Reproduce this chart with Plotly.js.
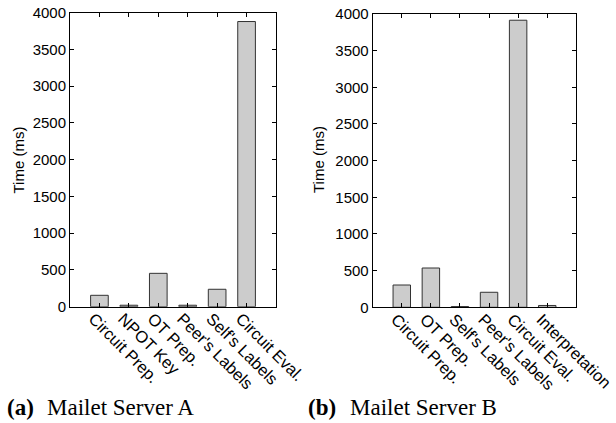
<!DOCTYPE html>
<html><head><meta charset="utf-8">
<script src="https://cdn.plot.ly/plotly-3.0.1.min.js"></script>
<style>html,body{margin:0;padding:0;background:#fff}</style>
</head><body><div id="chart" style="width:616px;height:423px"></div>
<script>
const categoriesA = ["Circuit Prep.", "NPOT Key", "OT Prep.", "Peer's Labels", "Self's Labels", "Circuit Eval."];
const timesA = [155, 20, 454, 20, 237, 3880];
const categoriesB = ["Circuit Prep.", "OT Prep.", "Self's Labels", "Peer's Labels", "Circuit Eval.", "Interpretation"];
const timesB = [304, 536, 10, 205, 3915, 25];
const yTickVals = [0, 500, 1000, 1500, 2000, 2500, 3000, 3500, 4000];
const yTitle = "Time (ms)";
const captionA = ["(a)", "Mailet Server A"];
const captionB = ["(b)", "Mailet Server B"];

const W = 616, H = 423;
const px = v => v / W, py = v => 1 - v / H;
const tickFont = {family: "Liberation Sans, Arial, sans-serif", size: 15, color: "#000"};
const xTickFont = {family: "Liberation Sans, Arial, sans-serif", size: 16.5, color: "#000"};
const barStyle = {type: "bar", width: 0.6, marker: {color: "#cccccc", line: {color: "#333333", width: 1}}, showlegend: false, hoverinfo: "skip"};

const xBase = {
  type: "category", range: [-1, 6], showline: true, linecolor: "#000", linewidth: 1, mirror: "ticks",
  ticks: "inside", ticklen: 4, tickcolor: "#000", tickangle: 45, tickfont: xTickFont,
  ticklabelshift: -6, ticklabelstandoff: -5,
  showgrid: false, zeroline: false, fixedrange: true
};
const yBase = {
  range: [0, 4000], tickvals: yTickVals, showline: true, linecolor: "#000", linewidth: 1, mirror: "ticks",
  ticks: "inside", ticklen: 4, tickcolor: "#000", tickfont: tickFont,
  showgrid: false, zeroline: false, fixedrange: true
};

const data = [
  Object.assign({}, barStyle, {x: categoriesA, y: timesA, xaxis: "x", yaxis: "y"}),
  Object.assign({}, barStyle, {x: categoriesB, y: timesB, xaxis: "x2", yaxis: "y2"})
];

const capFont = {family: "Liberation Serif, Times New Roman, serif", size: 23, color: "#000"};
const layout = {
  width: W, height: H, margin: {l: 0, r: 0, t: 0, b: 0},
  paper_bgcolor: "#fff", plot_bgcolor: "#fff", bargap: 0,
  xaxis: Object.assign({}, xBase, {domain: [px(70), px(276)], anchor: "y"}),
  yaxis: Object.assign({}, yBase, {domain: [py(306.7), py(12.7)], anchor: "x"}),
  xaxis2: Object.assign({}, xBase, {domain: [px(372.7), px(576.3)], anchor: "y2"}),
  yaxis2: Object.assign({}, yBase, {domain: [py(307.3), py(14)], anchor: "x2"}),
  annotations: [
    {text: yTitle, xref: "paper", yref: "paper", x: px(17.5), y: py(160), textangle: -90, showarrow: false, font: tickFont, xanchor: "center", yanchor: "middle"},
    {text: yTitle, xref: "paper", yref: "paper", x: px(318), y: py(160), textangle: -90, showarrow: false, font: tickFont, xanchor: "center", yanchor: "middle"},
    {text: "<b>" + captionA[0] + "</b>", xref: "paper", yref: "paper", x: px(5), y: py(407), showarrow: false, font: capFont, xanchor: "left", yanchor: "middle"},
    {text: captionA[1], xref: "paper", yref: "paper", x: px(45), y: py(407), showarrow: false, font: capFont, xanchor: "left", yanchor: "middle"},
    {text: "<b>" + captionB[0] + "</b>", xref: "paper", yref: "paper", x: px(306), y: py(407), showarrow: false, font: capFont, xanchor: "left", yanchor: "middle"},
    {text: captionB[1], xref: "paper", yref: "paper", x: px(348), y: py(407), showarrow: false, font: capFont, xanchor: "left", yanchor: "middle"}
  ]
};
Plotly.newPlot("chart", data, layout, {staticPlot: true, displayModeBar: false});
</script></body></html>
